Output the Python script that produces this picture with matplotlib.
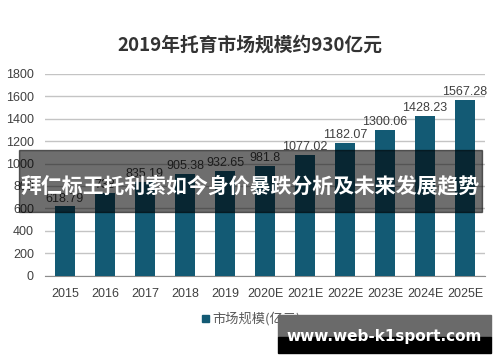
import matplotlib.pyplot as plt
from matplotlib.patches import Rectangle

plt.rcParams['font.family'] = ['Noto Sans CJK SC', 'DejaVu Sans']

# ── data ──────────────────────────────────────────────
years = ["2015", "2016", "2017", "2018", "2019", "2020E", "2021E",
         "2022E", "2023E", "2024E", "2025E"]
market_size = [618.79, 738.0, 835.19, 905.38, 932.65, 981.8, 1077.02,
               1182.07, 1300.06, 1428.23, 1567.28]
y_ticks = [0, 200, 400, 600, 800, 1000, 1200, 1400, 1600, 1800]

title = "2019年托育市场规模约930亿元"
legend_label = "市场规模(亿元)"
banner_text = "拜仁标王托利索如今身价暴跌分析及未来发展趋势"
watermark = "www.web-k1sport.com"

bar_color = "#135a74"
num_font = ["Liberation Sans", "DejaVu Sans"]

# ── figure ────────────────────────────────────────────
W, H = 500, 362
fig = plt.figure(figsize=(W / 100, H / 100), dpi=100)
fig.patch.set_facecolor("white")

ax = fig.add_axes([45 / W, 1 - 275.5 / H, 440 / W, 201.5 / H])
x = range(len(years))
bars = ax.bar(x, market_size, width=0.52, color=bar_color, zorder=3)
ax.set_xlim(-0.5, len(years) - 0.5)
ax.set_ylim(0, 1800)
ax.set_yticks(y_ticks)
ax.set_yticklabels([str(t) for t in y_ticks], family=num_font,
                   fontsize=9, color="#404040")
ax.set_xticks(list(x))
ax.set_xticklabels(years, family=num_font, fontsize=9, color="#404040")
ax.tick_params(length=0, pad=8)
ax.tick_params(axis="x", pad=9)
ax.grid(axis="y", color="#c4c4c4", linewidth=1, zorder=0)
for s in ["left", "right", "top"]:
    ax.spines[s].set_visible(False)
ax.spines["bottom"].set_color("#8c8c8c")

for xi, v in zip(x, market_size):
    ax.text(xi, v + 15, f"{v:g}", ha="center", va="bottom",
            family=num_font, fontsize=9, color="#404040", zorder=4)

fig.text(0.5, 1 - 45 / H, title, ha="center", va="center",
         fontsize=13.5, fontweight="bold", color="#333333")

# legend
fig.patches.append(Rectangle((202 / W, 1 - 322 / H), 7 / W, 7 / H,
                             transform=fig.transFigure, color=bar_color))
fig.text(212 / W, 1 - 318.5 / H, legend_label, ha="left", va="center",
         fontsize=9.5, color="#595959")

# overlay banner
fig.patches.append(Rectangle((19 / W, 1 - 212 / H), 463 / W, 62 / H,
                             transform=fig.transFigure, color="black",
                             alpha=0.57, zorder=10))
fig.text(250 / W, 1 - 186 / H, banner_text, ha="center", va="center",
         fontsize=15, fontweight="bold", color="white", zorder=11)

# watermark
fig.patches.append(Rectangle((278 / W, 1 - 337 / H), 213 / W, 22 / H,
                             transform=fig.transFigure, color="#6a6a6a",
                             zorder=10))
fig.patches.append(Rectangle((278 / W, 1 - 353 / H), 213 / W, 16 / H,
                             transform=fig.transFigure, color="black",
                             zorder=10))
fig.text(384 / W, 1 - 337 / H, watermark, ha="center", va="center",
         family="DejaVu Sans", fontsize=11, fontweight="bold",
         color="white", zorder=11)

fig.savefig("out.png", dpi=100)
